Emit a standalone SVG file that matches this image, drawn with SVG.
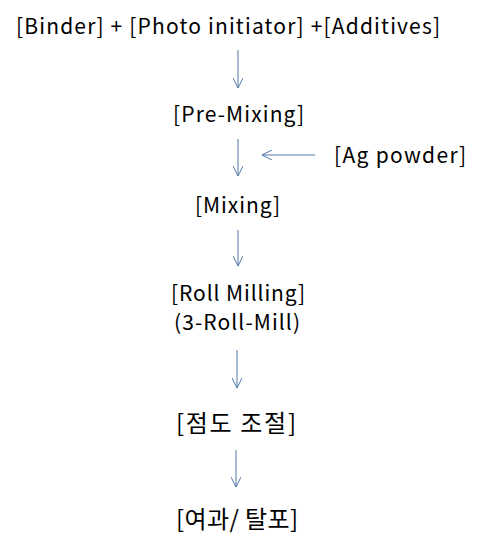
<svg xmlns="http://www.w3.org/2000/svg" width="483" height="541" viewBox="0 0 483 541">
<style>
text{font-family:"Noto Sans CJK KR","Noto Sans",sans-serif;font-size:21px;fill:#000;text-anchor:start}
text.k{font-size:24px}
.c line,.c path{stroke:#4F76A8;stroke-width:1;fill:none}
</style>
<defs>
<marker id="a" viewBox="0 0 10 10" refX="10" refY="5" markerWidth="10" markerHeight="10" markerUnits="userSpaceOnUse" orient="auto">
<path d="M0,0 L10,5 L0,10" fill="none" stroke="#4F76A8" stroke-width="1"/>
</marker>
</defs>
<rect width="483" height="541" fill="#fff"/>
<g id="n1"><text x="16" y="34" textLength="424" lengthAdjust="spacing">[Binder] + [Photo initiator] +[Additives]</text></g>
<g id="n2"><text x="173" y="122" textLength="131" lengthAdjust="spacing">[Pre-Mixing]</text></g>
<g id="n3"><text x="334" y="163" textLength="132" lengthAdjust="spacing">[Ag powder]</text></g>
<g id="n4"><text x="195" y="213" textLength="85" lengthAdjust="spacing">[Mixing]</text></g>
<g id="n5"><text x="171" y="301" textLength="134" lengthAdjust="spacing">[Roll Milling]</text><text x="174" y="330" textLength="126" lengthAdjust="spacing">(3-Roll-Mill)</text></g>
<g id="n6"><text class="k" x="176" y="432" textLength="120" lengthAdjust="spacing">[점도 조절]</text></g>
<g id="n7"><text class="k" x="176" y="528" textLength="122" lengthAdjust="spacing">[여과/ 탈포]</text></g>
<g class="c">
<line x1="238" y1="50" x2="238" y2="88" marker-end="url(#a)"/>
<line x1="238" y1="139" x2="238" y2="176" marker-end="url(#a)"/>
<line x1="315" y1="155" x2="262" y2="155" marker-end="url(#a)"/>
<line x1="238" y1="230" x2="238" y2="266" marker-end="url(#a)"/>
<line x1="237" y1="350" x2="237" y2="388" marker-end="url(#a)"/>
<line x1="236" y1="450" x2="236" y2="487" marker-end="url(#a)"/>
</g>
</svg>
